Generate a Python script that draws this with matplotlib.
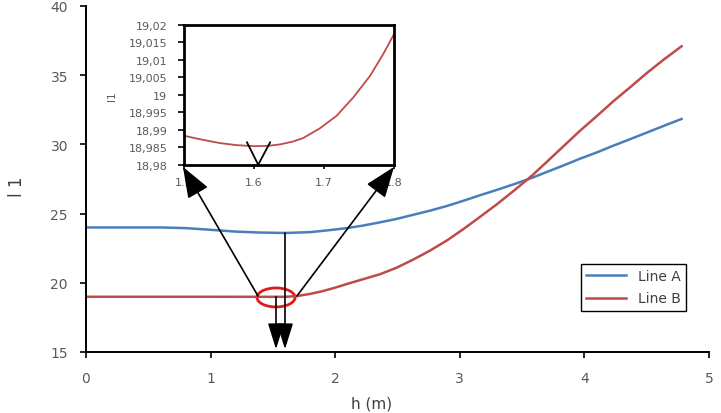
import matplotlib
matplotlib.use("Agg")
import matplotlib.pyplot as plt
from matplotlib.patches import Ellipse
from matplotlib.ticker import FixedLocator

# === Data ===
h_a = [0.0, 0.6, 0.8, 1.0, 1.2, 1.4, 1.6, 1.8, 1.96, 2.1, 2.22, 2.36, 2.49, 2.62, 2.76, 2.9, 3.03, 3.16,
       3.30, 3.45, 3.59, 3.71, 3.83, 3.96, 4.10, 4.23, 4.37, 4.5, 4.64, 4.78]
line_a = [24.0, 24.0, 23.95, 23.83, 23.7, 23.63, 23.6, 23.66, 23.81, 23.96, 24.13, 24.37, 24.61, 24.9, 25.21,
          25.56, 25.93, 26.32, 26.72, 27.17, 27.62, 28.05, 28.47, 28.95, 29.42, 29.9, 30.39, 30.85, 31.35, 31.84]

h_b = [0.0, 0.5, 1.0, 1.5, 1.6, 1.7, 1.8, 1.9, 2.0, 2.1, 2.22, 2.36, 2.49, 2.62, 2.76, 2.9, 3.03, 3.16,
       3.30, 3.44, 3.58, 3.7, 3.83, 3.96, 4.10, 4.23, 4.37, 4.5, 4.64, 4.78]
line_b = [18.99, 18.99, 18.99, 18.988, 18.985, 19.05, 19.2, 19.4, 19.65, 19.93, 20.25, 20.62, 21.08, 21.65,
          22.32, 23.08, 23.89, 24.75, 25.69, 26.7, 27.75, 28.75, 29.85, 30.95, 32.05, 33.1, 34.15, 35.15,
          36.15, 37.09]

# zoomed part of Line B
h_zoom = [1.5, 1.525, 1.551, 1.575, 1.6, 1.62, 1.637, 1.655, 1.67, 1.694, 1.718, 1.742, 1.766, 1.785, 1.8]
b_zoom = [18.9883, 18.9872, 18.9862, 18.9856, 18.9853, 18.9854, 18.9858, 18.9866, 18.9876, 18.9904,
          18.994, 18.9993, 19.0055, 19.0118, 19.0174]

main_xticks = [0, 1, 2, 3, 4, 5]
main_yticks = [15, 20, 25, 30, 35, 40]
zoom_xticks = [1.5, 1.6, 1.7, 1.8]
zoom_xlabels = ["1.5", "1.6", "1.7", "1.8"]
zoom_yticks = [18.98, 18.985, 18.99, 18.995, 19.0, 19.005, 19.01, 19.015, 19.02]
zoom_ylabels = ["18,98", "18,985", "18,99", "18,995", "19", "19,005", "19,01", "19,015", "19,02"]

BLUE = "#4A7EBB"
RED = "#BE4B48"
GREY = "#595959"

plt.rcParams["font.family"] = ["DejaVu Sans"]

W, H = 721, 414
fig = plt.figure(figsize=(W / 100, H / 100), dpi=100)

def px_box(x0, y0, x1, y1):
    # pixel box (top-left origin) -> figure fractions
    return [x0 / W, 1 - y1 / H, (x1 - x0) / W, (y1 - y0) / H]

ax = fig.add_axes(px_box(86, 7, 709, 353))
ax.plot(h_a, line_a, color=BLUE, lw=1.8, label="Line A")
ax.plot(h_b, line_b, color=RED, lw=1.8, label="Line B")
ax.set_xlim(0, 5)
ax.set_ylim(15, 40)
ax.xaxis.set_major_locator(FixedLocator(main_xticks))
ax.yaxis.set_major_locator(FixedLocator(main_yticks))
for s in ["top", "right"]:
    ax.spines[s].set_visible(False)
for s in ["left", "bottom"]:
    ax.spines[s].set_linewidth(1.4)
ax.tick_params(axis="both", direction="out", length=4, width=1.2, labelsize=10, labelcolor=GREY)
ax.tick_params(axis="x", pad=10)
ax.tick_params(axis="y", pad=9)

leg = ax.legend(loc="lower right", bbox_to_anchor=((686 - 86) / 623, (353 - 312) / 346),
                borderaxespad=0, fancybox=False, edgecolor="black", fontsize=10,
                handlelength=2.9, labelspacing=0.6, framealpha=1)
leg.get_frame().set_linewidth(1.0)
for t in leg.get_texts():
    t.set_color("#404040")

fig.text(17 / W, 1 - 187 / H, "l 1", rotation=90, ha="center", va="center", fontsize=12, color="#404040")
fig.text(372 / W, 1 - 412 / H, "h (m)", ha="center", va="bottom", fontsize=11, color="#404040")

# red ring round the minimum
ax.add_patch(Ellipse((1.525, 18.94), 0.305, 1.37, fill=False, edgecolor="#E01818", lw=2))

# two arrows pointing down to the axis
arr = dict(arrowstyle="-|>,head_length=1.6,head_width=0.5", color="black", lw=1.2,
           mutation_scale=10, shrinkA=0, shrinkB=0)
ax.annotate("", xy=(1.597, 15.2), xytext=(1.597, 23.6), arrowprops=arr)
ax.annotate("", xy=(1.525, 15.2), xytext=(1.525, 19.0), arrowprops=arr)

# inset
axins = fig.add_axes(px_box(184, 26, 394, 165.7))
axins.plot(h_zoom, b_zoom, color=RED, lw=1.3)
axins.set_xlim(1.5, 1.8)
axins.set_ylim(18.98, 19.02)
axins.set_xticks(zoom_xticks)
axins.set_xticklabels(zoom_xlabels)
axins.set_yticks(zoom_yticks)
axins.set_yticklabels(zoom_ylabels)
for s in axins.spines.values():
    s.set_linewidth(2)
axins.tick_params(axis="both", labelsize=8, labelcolor=GREY, width=1.2)
axins.tick_params(axis="y", direction="out", length=4, pad=8)
axins.tick_params(axis="x", direction="out", length=3, pad=6)
axins.set_ylabel("l1", fontsize=7.5, color=GREY, labelpad=8)
axins.yaxis.set_label_coords((117 - 184) / 210, 0.5)

# V mark at the minimum
axins.plot([1.590, 1.606, 1.623], [18.9864, 18.98, 18.9864], color="black", lw=1.3, clip_on=False)

# arrows from the ring to the inset corners
arr2 = dict(arrowstyle="-|>,head_length=1.6,head_width=0.6", color="black", lw=1.2,
            mutation_scale=12, shrinkA=0, shrinkB=0)
axins.annotate("", xy=(-0.005, -0.016), xycoords="axes fraction",
               xytext=(1.38, 19.05), textcoords=ax.transData,
               arrowprops=arr2, annotation_clip=False)
axins.annotate("", xy=(1.0, -0.016), xycoords="axes fraction",
               xytext=(1.693, 19.05), textcoords=ax.transData,
               arrowprops=arr2, annotation_clip=False)

fig.savefig("out.png", dpi=100)
